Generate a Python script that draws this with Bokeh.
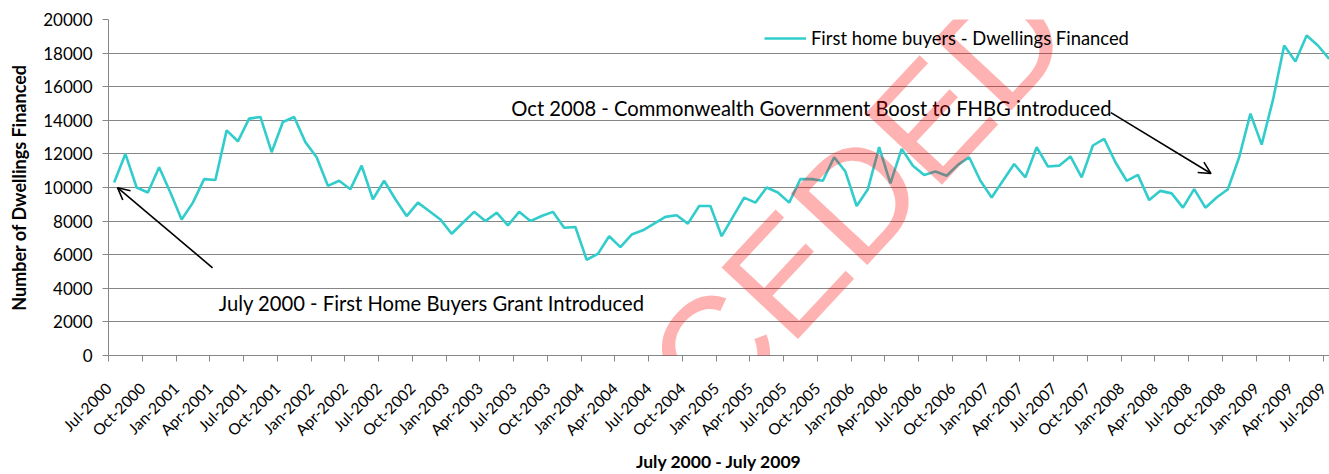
import math
from bokeh.plotting import figure
from bokeh.models import (ColumnDataSource, FixedTicker, Label, Arrow, OpenHead,
                          Range1d)
from bokeh.embed import file_html
from bokeh.resources import INLINE

# ---- data -------------------------------------------------------------
# monthly categories Jul-2000 .. Jul-2009 (index 0..108)
month_index = list(range(109))

tick_labels = [
    "Jul-2000", "Oct-2000", "Jan-2001", "Apr-2001", "Jul-2001", "Oct-2001",
    "Jan-2002", "Apr-2002", "Jul-2002", "Oct-2002", "Jan-2003", "Apr-2003",
    "Jul-2003", "Oct-2003", "Jan-2004", "Apr-2004", "Jul-2004", "Oct-2004",
    "Jan-2005", "Apr-2005", "Jul-2005", "Oct-2005", "Jan-2006", "Apr-2006",
    "Jul-2006", "Oct-2006", "Jan-2007", "Apr-2007", "Jul-2007", "Oct-2007",
    "Jan-2008", "Apr-2008", "Jul-2008", "Oct-2008", "Jan-2009", "Apr-2009",
    "Jul-2009",
]

dwellings_financed = [
    10300, 12000, 10000, 9700, 11200, 9700, 8100, 9100, 10500, 10450,
    13400, 12750, 14100, 14200, 12100, 13900, 14200, 12700, 11800, 10100,
    10400, 9900, 11300, 9300, 10400, 9300, 8300, 9100, 8600, 8100,
    7250, 7900, 8550, 8000, 8500, 7750, 8550, 8000, 8300, 8550,
    7600, 7650, 5700, 6050, 7100, 6450, 7200, 7450, 7850, 8250,
    8350, 7850, 8900, 8900, 7100, 8250, 9400, 9100, 10000, 9700,
    9100, 10500, 10500, 10400, 11800, 10950, 8900, 9900, 12400, 10250,
    12300, 11300, 10750, 10950, 10700, 11350, 11800, 10400, 9400, 10400,
    11400, 10600, 12400, 11250, 11300, 11850, 10600, 12500, 12900, 11500,
    10400, 10750, 9250, 9800, 9650, 8800, 9900, 8800, 9400, 9900,
    11800, 14400, 12550, 15200, 18450, 17500, 19050, 18450, 17650,
]

series_name = "First home buyers - Dwellings Financed"
y_ticks = list(range(0, 20001, 2000))

# ---- figure -------------------------------------------------------------
FONT = "Lato"
GRID = "#868686"

p = figure(width=1329, height=474, output_backend="svg", toolbar_location=None,
           x_range=Range1d(-0.5, 108.03), y_range=Range1d(0, 20000),
           min_border_left=108, min_border_right=0, min_border_top=19,
           min_border_bottom=119)
p.outline_line_color = None
p.background_fill_color = "white"
p.border_fill_color = "white"

src = ColumnDataSource(dict(x=month_index, y=dwellings_financed))
p.line("x", "y", source=src, line_color="#33CCCC", line_width=2.6,
       legend_label=series_name)

# x axis: quarterly ticks at category boundaries
tick_pos = [-0.5 + 3 * k for k in range(len(tick_labels))]
p.xaxis.ticker = FixedTicker(ticks=tick_pos)
p.xaxis.major_label_overrides = {t: lab for t, lab in zip(tick_pos, tick_labels)}
p.xaxis.major_label_orientation = math.pi / 4
p.xaxis.axis_label = "July 2000 - July 2009"

p.yaxis.ticker = FixedTicker(ticks=y_ticks)
p.yaxis.axis_label = "Number of Dwellings Financed"

for ax in (p.xaxis[0], p.yaxis[0]):
    ax.axis_line_color = GRID
    ax.major_tick_line_color = GRID
    ax.major_tick_out = 6
    ax.major_tick_in = 0
    ax.minor_tick_line_color = None
    ax.major_label_text_font = FONT
    ax.major_label_text_color = "black"
    ax.axis_label_text_font = FONT
    ax.axis_label_text_font_style = "bold"
    ax.axis_label_text_color = "black"

p.yaxis.major_label_text_font_size = "17px"
p.yaxis.major_label_standoff = 10
p.yaxis.axis_label_text_font_size = "18px"
p.yaxis.axis_label_standoff = 10

p.xaxis.major_label_text_font_size = "15.5px"
p.xaxis.major_label_standoff = 24
p.xaxis.axis_label_text_font_size = "17.5px"
p.xaxis.axis_label_standoff = 2

p.xgrid.visible = False
p.ygrid.grid_line_color = GRID
p.ygrid.grid_line_width = 1

# legend
lg = p.legend[0]
lg.location = (656, 306)
lg.border_line_color = None
lg.background_fill_alpha = 0
lg.padding = 0
lg.margin = 0
lg.glyph_width = 42
lg.label_standoff = 5
lg.label_text_font = FONT
lg.label_text_font_size = "18.4px"
lg.label_text_color = "black"

# annotations
p.add_layout(Label(x=9.3, y=3140, text="July 2000 - First Home Buyers Grant Introduced",
                   text_font=FONT, text_font_size="20.2px", text_baseline="middle",
                   text_align="left", text_color="black"))
p.add_layout(Label(x=35.3, y=14750, text="Oct 2008 - Commonwealth Government Boost to FHBG introduced",
                   text_font=FONT, text_font_size="20.2px", text_baseline="middle",
                   text_align="left", text_color="black"))
p.add_layout(Arrow(x_start=8.75, y_start=5220, x_end=0.3, y_end=9990,
                   line_color="black", line_width=1.6,
                   end=OpenHead(size=12, line_color="black", line_width=1.6)))
p.add_layout(Arrow(x_start=88.6, y_start=14460, x_end=97.5, y_end=10830,
                   line_color="black", line_width=1.6,
                   end=OpenHead(size=12, line_color="black", line_width=1.6)))

# watermark
p.add_layout(Label(x=50.2, y=-2000, text="SUPERCEDED", angle=47, angle_units="deg",
                   text_font="Liberation Sans", text_font_size="152px",
                   text_align="center", text_baseline="middle",
                   text_color="red", text_alpha=0.3))

open("out.html", "w").write(file_html(p, INLINE))
